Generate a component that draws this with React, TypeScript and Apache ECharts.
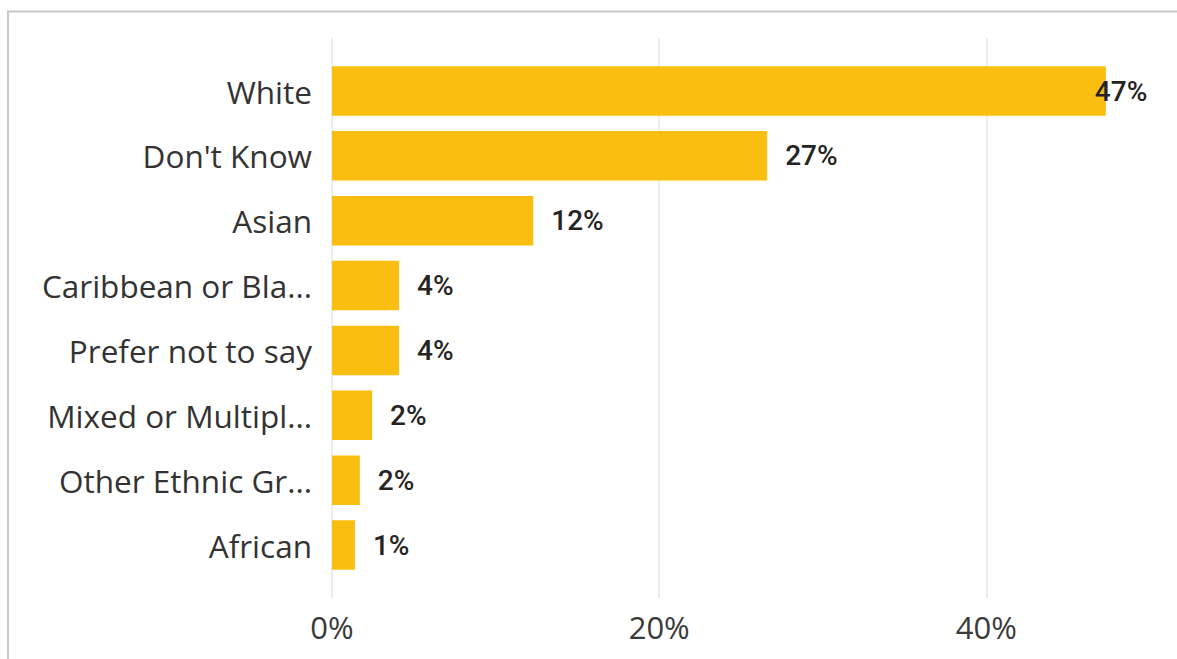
import React, { useEffect, useRef } from "react";
import * as echarts from "echarts";

const categories = [
  "White",
  "Don't Know",
  "Asian",
  "Caribbean or Bla...",
  "Prefer not to say",
  "Mixed or Multipl...",
  "Other Ethnic Gr...",
  "African",
];
const values = [47.3, 26.6, 12.3, 4.1, 4.1, 2.45, 1.7, 1.4];
const xTicks = [0, 20, 40];

export default function App() {
  const ref = useRef<HTMLDivElement>(null);
  useEffect(() => {
    document.body.style.margin = "0";
    const chart = echarts.init(ref.current!, null, { renderer: "svg" });
    const BAND = 64.86;
    const TOP = 91 - BAND / 2;
    const UNIT = 16.36;
    chart.setOption({
      animation: false,
      graphic: [
        {
          type: "rect",
          shape: { x: 8, y: 11.5, width: 1300, height: 800 },
          style: { fill: "none", stroke: "#c8c8c8", lineWidth: 2 },
          silent: true,
          z: -10,
        },
      ],
      grid: [
        {
          left: 332,
          top: TOP,
          width: UNIT * 60,
          height: BAND * 8,
          outerBoundsMode: "none",
        },
        {
          left: 332,
          top: 38,
          width: UNIT * 60,
          height: 560,
          outerBoundsMode: "none",
        },
      ],
      xAxis: [
        {
          type: "value",
          gridIndex: 0,
          min: 0,
          max: 60,
          interval: 20,
          show: false,
          splitLine: { show: false },
        },
        {
          type: "value",
          gridIndex: 1,
          min: 0,
          max: 60,
          interval: 20,
          axisLine: { show: false },
          axisTick: { show: false },
          splitLine: { show: true, lineStyle: { color: "#e6e6e6", width: 1.5 } },
          axisLabel: {
            margin: 13,
            fontFamily: "Open Sans",
            fontSize: 31,
            color: "#3a3a3a",
            formatter: (v: number) => (xTicks.includes(v) ? v + "%" : ""),
          },
        },
      ],
      yAxis: [
        {
          type: "category",
          gridIndex: 0,
          data: categories,
          inverse: true,
          axisLine: { show: false },
          axisTick: { show: false },
          axisLabel: {
            margin: 20,
            fontFamily: "Open Sans",
            fontSize: 31.5,
            color: "#333333",
          },
        },
        {
          type: "value",
          gridIndex: 1,
          show: false,
        },
      ],
      series: [
        {
          type: "bar",
          xAxisIndex: 0,
          yAxisIndex: 0,
          barWidth: 49.5,
          itemStyle: { color: "#FABE11" },
          data: values.map((v, i) =>
            i === 0
              ? { value: v, label: { distance: -11 } }
              : { value: v }
          ),
          label: {
            show: true,
            position: "right",
            distance: 18,
            fontFamily: "Roboto",
            fontWeight: 500,
            fontSize: 28,
            color: "#252423",
            formatter: (p: any) => Math.round(p.value) + "%",
          },
        },
      ],
    });
    return () => chart.dispose();
  }, []);
  return (
    <div
      ref={ref}
      style={{ position: "absolute", left: 0, top: 0, width: 1177, height: 659 }}
    />
  );
}
